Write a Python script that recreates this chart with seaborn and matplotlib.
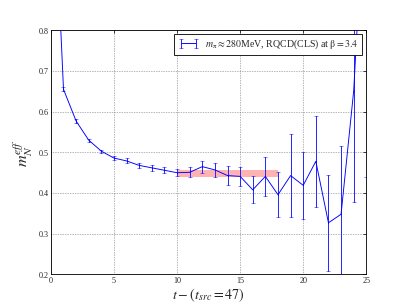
import numpy as np
import pandas as pd
import matplotlib
matplotlib.use("Agg")
import matplotlib.pyplot as plt
from matplotlib.collections import LineCollection
import seaborn as sns

# data
t_vals = [0, 1, 2, 3, 4, 5, 6, 7, 8, 9, 10, 11, 12, 13, 14, 15, 16, 17, 18, 19, 20, 21, 22, 23, 24, 25]
m_eff = [1.34, 0.655, 0.577, 0.530, 0.503, 0.486, 0.479, 0.468, 0.462, 0.456, 0.450, 0.451,
         0.465, 0.457, 0.443, 0.441, 0.408, 0.441, 0.396, 0.443, 0.419, 0.478, 0.327, 0.348,
         0.651, 1.22]
m_err = [0.01, 0.005, 0.005, 0.004, 0.004, 0.005, 0.006, 0.006, 0.007, 0.007, 0.009, 0.012,
         0.015, 0.018, 0.024, 0.024, 0.033, 0.048, 0.056, 0.103, 0.083, 0.112, 0.118, 0.167,
         0.273, 0.78]
fit_range = [10, 18]
fit_low = 0.4395
fit_high = 0.4575
legend_label = r"$m_{\mathrm{\pi}} \approx 280$MeV, RQCD(CLS) at $\mathrm{\beta}=3.4$"
x_label = r"$t-(t_{src}=47)$"
y_label = r"$m_N^{eff}$"
x_ticks = [0, 5, 10, 15, 20, 25]
y_ticks = [0.2, 0.3, 0.4, 0.5, 0.6, 0.7, 0.8]

# long table: two rows per t (value -/+ error) -> mean = value, min/max = error bar
rows = []
for t, y, e in zip(t_vals, m_eff, m_err):
    rows.append({"t": t, "m": y - e})
    rows.append({"t": t, "m": y + e})
df = pd.DataFrame(rows)

sns.set_theme(style="white")
plt.rcParams.update({
    "font.family": ["Liberation Serif", "DejaVu Serif"],
    "mathtext.fontset": "stix",
    "axes.edgecolor": "black",
    "axes.linewidth": 1.2,
    "xtick.direction": "in",
    "ytick.direction": "in",
    "xtick.top": True,
    "ytick.right": True,
    "xtick.major.size": 4,
    "ytick.major.size": 4,
})

fig = plt.figure(figsize=(8, 6), dpi=407 / 8)
ax = fig.add_axes([0.125, 0.1, 0.775, 0.8])

ax.fill_between(fit_range, fit_low, fit_high, color="red", alpha=0.3, lw=0, zorder=1)

blue = "#0000ff"
err_blue = "#2a2aff"
sns.lineplot(data=df, x="t", y="m", estimator="mean", errorbar=("pi", 100),
             err_style="bars", color=blue, lw=1.3, marker=".", markersize=3,
             markeredgewidth=0,
             err_kws={"capsize": 3.5, "elinewidth": 0.8, "capthick": 0.8},
             ax=ax, zorder=3, legend=False)


def recolor(artists):
    for a in artists:
        if isinstance(a, LineCollection):
            a.set_color(err_blue)
            a.set_alpha(1.0)
            a.set_antialiased(False)
        elif hasattr(a, "get_marker") and a.get_marker() in ("_", "|"):
            a.set_color(err_blue)
            a.set_markeredgecolor(err_blue)
            a.set_markerfacecolor(err_blue)
            a.set_antialiased(False)


recolor(list(ax.collections) + list(ax.lines))

# legend proxy
ax.errorbar([np.nan, np.nan], [np.nan, np.nan], yerr=[np.nan, np.nan], color=blue,
            ecolor=err_blue, elinewidth=0.8, capthick=0.8,
            capsize=3.5, lw=1.3, label=legend_label)
leg = ax.legend(loc="upper right", numpoints=2, fontsize=14, fancybox=False,
                framealpha=1, edgecolor="black", borderaxespad=0.4,
                handlelength=2.2, borderpad=0.35, handletextpad=0.6)
leg.get_frame().set_linewidth(1.2)
recolor(leg.get_children()[0].findobj())

ax.set_xlim(0, 25)
ax.set_ylim(0.2, 0.8)
ax.set_xticks(x_ticks)
ax.set_yticks(y_ticks)
ax.set_xticklabels([str(v) for v in x_ticks], fontsize=11.5)
ax.set_yticklabels([f"{v:.1f}" for v in y_ticks], fontsize=11.5)
ax.grid(True, color="#555555", linestyle=":", linewidth=0.9)
ax.set_axisbelow(True)
ax.set_xlabel(x_label, fontsize=20, labelpad=2)
ax.set_ylabel(y_label, fontsize=23, labelpad=4)

fig.savefig("out.png", dpi=407 / 8)
